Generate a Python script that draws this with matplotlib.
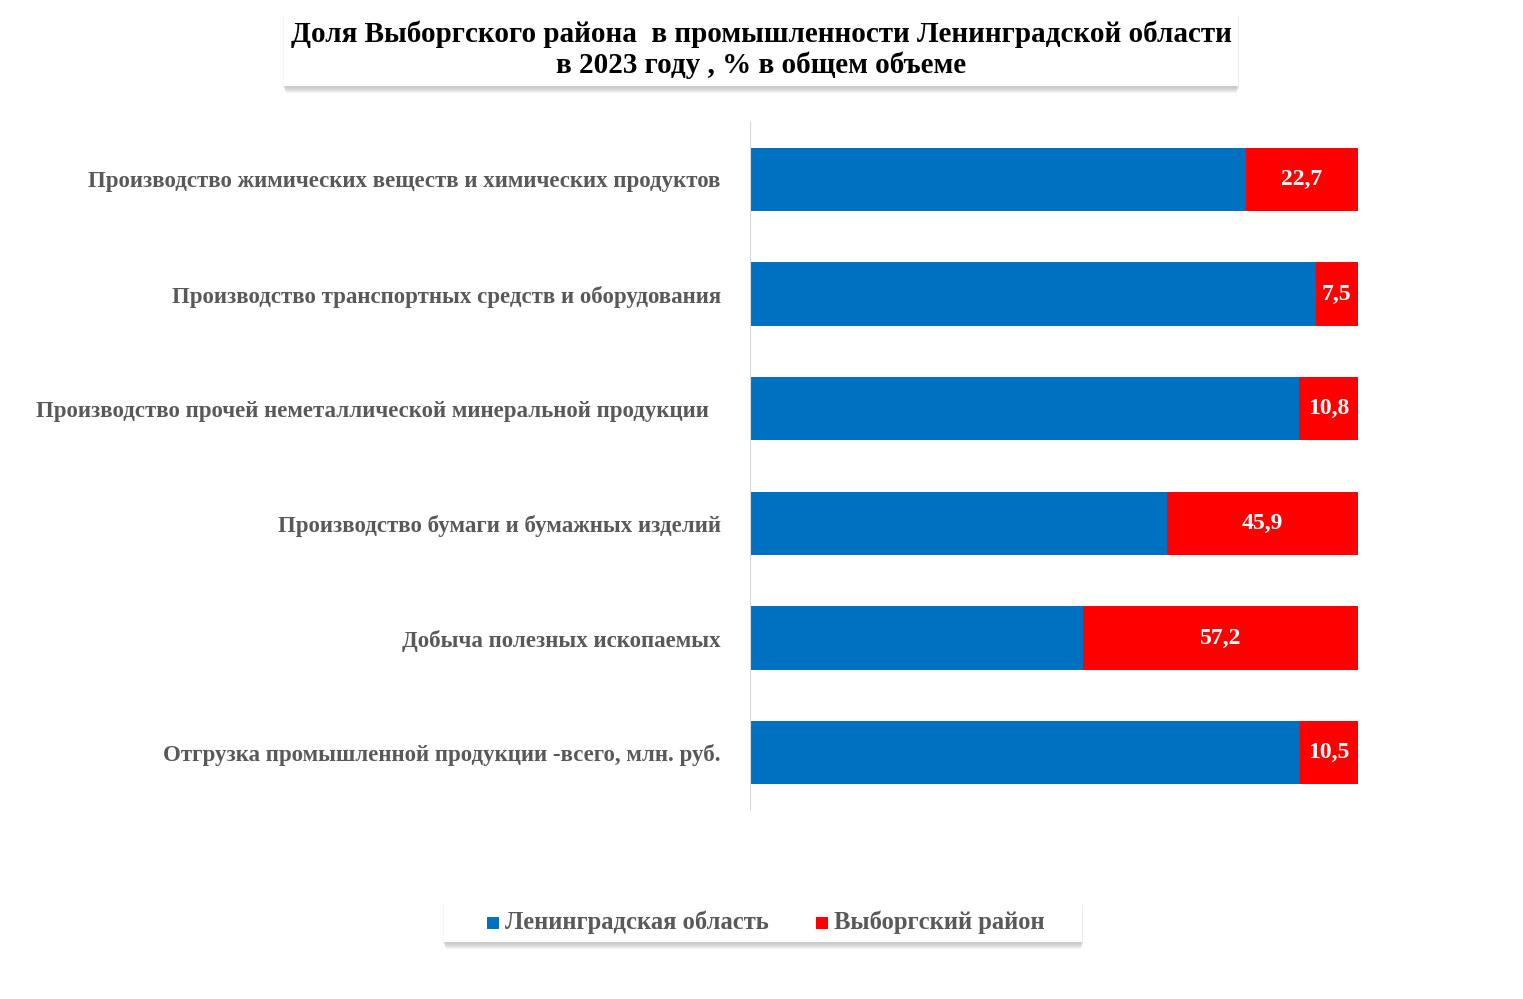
import matplotlib
matplotlib.use("Agg")
import matplotlib.pyplot as plt
from matplotlib.patches import FancyBboxPatch, Rectangle
import numpy as np

categories = ["Производство жимических веществ и химических продуктов",
              "Производство транспортных средств и оборудования",
              "Производство прочей неметаллической минеральной продукции  ",
              "Производство бумаги и бумажных изделий",
              "Добыча полезных ископаемых",
              "Отгрузка промышленной продукции -всего, млн. руб."]
lenobl = [100, 100, 100, 100, 69.3, 100]
vyborg = [22.7, 7.5, 10.8, 45.9, 57.2, 10.5]
labels = ["22,7", "7,5", "10,8", "45,9", "57,2", "10,5"]

plt.rcParams["font.family"] = "Liberation Serif"
fig = plt.figure(figsize=(15.23, 9.99), dpi=100)
ax = fig.add_axes([750/1523, 1-810/999, 608/1523, 688/999])

tot = np.array(lenobl) + np.array(vyborg)
b = np.array(lenobl) / tot * 100
r = np.array(vyborg) / tot * 100
y = np.arange(len(categories))[::-1]
ax.barh(y, b, height=0.55, color="#0070C0")
ax.barh(y, r, left=b, height=0.55, color="#FF0000")
for yi, bi, ri, lab in zip(y, b, r, labels):
    ax.text(bi + ri/2, yi, lab, ha="center", va="center", color="white",
            fontsize=17, fontweight="bold")
ax.set_xlim(0, 100)
ax.set_ylim(-0.5, 5.5)
ax.set_yticks(y)
ax.set_yticklabels(categories, fontsize=16.5, fontweight="bold", color="#595959")
ax.tick_params(axis="y", length=0, pad=21)
ax.set_xticks([])
for s in ["top", "right", "bottom"]:
    ax.spines[s].set_visible(False)
ax.spines["left"].set_color("#D9D9D9")

def shadow_box(x0, y0, w, h):
    for i in range(6):
        d = 2 + i
        fig.patches.append(Rectangle(((x0 - 1 + i*0.5)/1523, 1-(y0+h+d)/999), (w + 2 - i)/1523, h/999,
            transform=fig.transFigure, fc="#808080", ec="none", alpha=0.08))
    fig.patches.append(Rectangle((x0/1523, 1-(y0+h)/999), w/1523, h/999,
        transform=fig.transFigure, fc="white", ec="none"))

shadow_box(284, 13, 954, 73)
fig.text(761/1523, 1-50/999, "Доля Выборгского района  в промышленности Ленинградской области\nв 2023 году , % в общем объеме",
         ha="center", va="center", fontsize=21, fontweight="bold", linespacing=1.15)

shadow_box(444, 902, 638, 40)
fig.patches.append(Rectangle((487/1523, 1-929/999), 12/1523, 12/999, transform=fig.transFigure, fc="#0070C0"))
fig.text(505/1523, 1-922/999, "Ленинградская область", fontsize=17.7, fontweight="bold", color="#595959", va="center")
fig.patches.append(Rectangle((816/1523, 1-929/999), 12/1523, 12/999, transform=fig.transFigure, fc="#FF0000"))
fig.text(834/1523, 1-922/999, "Выборгский район", fontsize=17.7, fontweight="bold", color="#595959", va="center")

fig.savefig("out.png", dpi=100)
